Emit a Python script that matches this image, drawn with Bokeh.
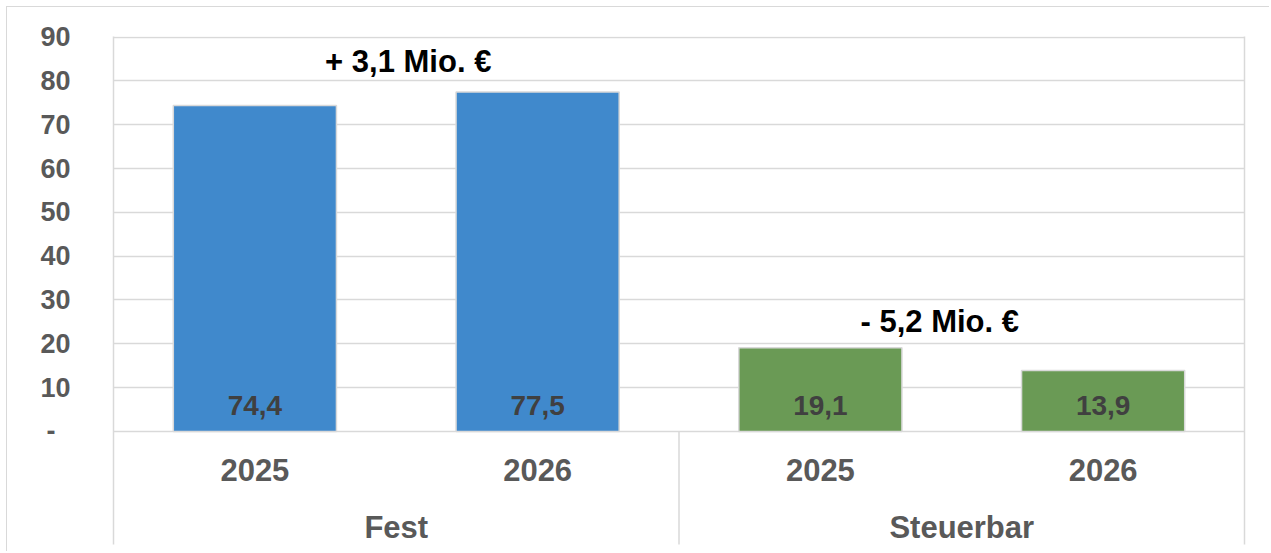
from bokeh.plotting import figure
from bokeh.models import FactorRange, FixedTicker, LinearAxis, ColumnDataSource, Range1d
from bokeh.core.properties import value
from bokeh.embed import file_html
from bokeh.resources import INLINE

# ---- data ----
groups = ["Fest", "Fest", "Steuerbar", "Steuerbar"]
years = ["2025", "2026", "2025", "2026"]
values = [74.4, 77.5, 19.1, 13.9]
value_labels = ["74,4", "77,5", "19,1", "13,9"]
group_names = ["Fest", "Steuerbar"]
change_labels = ["+ 3,1 Mio. €", "- 5,2 Mio. €"]
change_y = [84.5, 25.2]
y_ticks = [0, 10, 20, 30, 40, 50, 60, 70, 80, 90]

# ---- styles ----
FONT = "Liberation Sans"
GRID = "#D9D9D9"
TXT = "#595959"
group_colors = {"Fest": "#4089CC", "Steuerbar": "#6A9A55"}

factors = list(zip(groups, years))
Y_TOP = 90.15
Y_MIN = -27.65        # frame bottom (room for the group labels)
Y_BORDER = -25.8      # where the category-area lines end

src = ColumnDataSource(dict(
    x=factors,
    top=values,
    lab=value_labels,
    year=years,
    color=[group_colors[g] for g in groups],
))

p = figure(
    x_range=FactorRange(*factors, factor_padding=0, group_padding=0, range_padding=0),
    y_range=Range1d(Y_MIN, Y_TOP),
    width=1263, height=545,
    output_backend="svg", toolbar_location=None,
    x_axis_location=None,
    min_border_left=106, min_border_right=26, min_border_top=29, min_border_bottom=0,
)
p.outline_line_color = None
p.background_fill_color = "white"
p.border_fill_color = "white"
p.styles = {"border-top": "1.5px solid #D9D9D9", "border-left": "1.5px solid #D9D9D9",
            "margin-top": "6px", "margin-left": "6px"}

# y axis
ya = p.yaxis[0]
ya.ticker = FixedTicker(ticks=y_ticks)
ya.bounds = (Y_BORDER, Y_TOP)
ya.major_label_overrides = {0: "-\u00a0\u00a0"}
ya.major_label_text_font = FONT
ya.major_label_text_font_style = "bold"
ya.major_label_text_font_size = "27px"
ya.major_label_text_color = TXT
ya.major_tick_line_color = None
ya.minor_tick_line_color = None
ya.major_tick_out = 0
ya.major_label_standoff = 43
ya.axis_line_color = GRID
ya.axis_line_width = 1.5

# right border as an axis without ticks
ra = LinearAxis(ticker=FixedTicker(ticks=[]), major_label_text_font_size="0px",
                major_tick_line_color=None, minor_tick_line_color=None,
                axis_line_color=GRID, axis_line_width=1.5, major_label_standoff=0,
                bounds=(Y_BORDER, Y_TOP))
p.add_layout(ra, "right")

p.xgrid.grid_line_color = None
p.ygrid.ticker = FixedTicker(ticks=y_ticks)
p.ygrid.grid_line_color = GRID
p.ygrid.grid_line_width = 1.5

# bars
p.vbar(x="x", top="top", bottom=0, width=0.577, fill_color="color",
       line_color="#D9D9D9", line_width=1.5, source=src)

# value labels inside bars
p.text(x="x", y=6.0, text="lab", source=src, text_align="center", text_baseline="middle",
       text_font=value(FONT), text_font_style="bold", text_font_size="28px",
       text_color="#404040")

# year labels
p.text(x="x", y=-8.8, text="year", source=src, text_align="center", text_baseline="middle",
       text_font=value(FONT), text_font_style="bold", text_font_size="31px",
       text_color=TXT)

# group labels
gsrc = ColumnDataSource(dict(g=group_names, ch=change_labels, cy=change_y, off=[12, -22]))
p.text(x="g", y=-21.9, text="g", source=gsrc, text_align="center", text_baseline="middle",
       text_font=value(FONT), text_font_style="bold", text_font_size="31px",
       text_color=TXT)

# group separators (between groups, below the axis)
n_per_group = [groups.count(g) for g in group_names]
bounds = []
acc = 0
for n in n_per_group[:-1]:
    acc += n
    bounds.append(acc)
p.segment(x0=bounds, y0=[0] * len(bounds), x1=bounds, y1=[Y_BORDER] * len(bounds),
          line_color=GRID, line_width=1.5)

# change annotations
p.text(x="g", y="cy", text="ch", source=gsrc, x_offset="off", text_align="center",
       text_baseline="middle", text_font=value(FONT), text_font_style="bold",
       text_font_size="31px", text_color="black")

open("out.html", "w").write(file_html(p, INLINE))
